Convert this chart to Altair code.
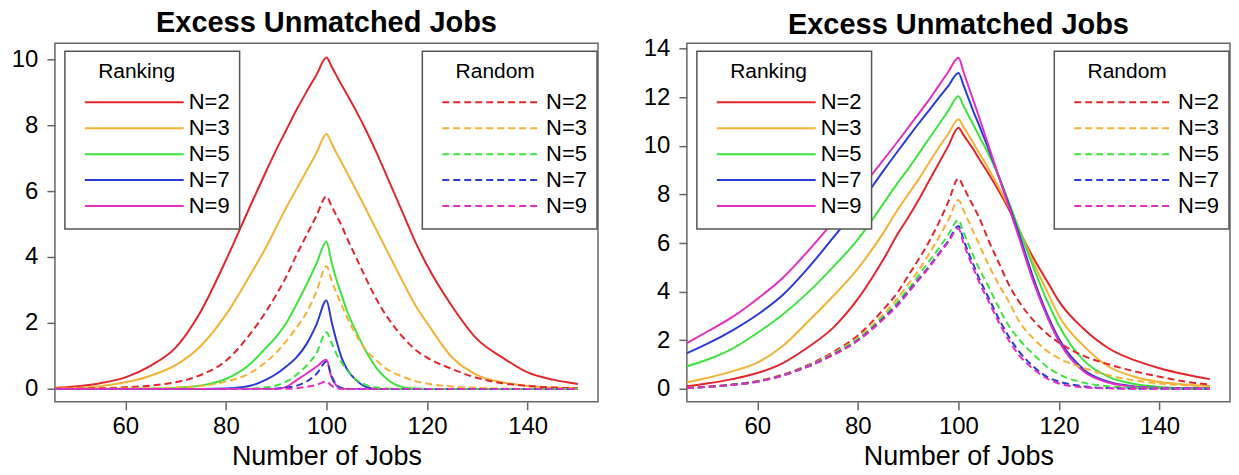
import altair as alt
import pandas as pd

# ---------------- data ----------------
X = [46, 50, 55, 60, 65, 70, 75, 80, 85, 88, 90, 92, 94, 96, 98, 100, 101, 102, 103, 104,
     106, 108, 110, 112, 115, 118, 120, 125, 130, 135, 140, 145, 150]

N_VALUES = [2, 3, 5, 7, 9]
N_LABELS = ["N=2", "N=3", "N=5", "N=7", "N=9"]
COLORS = ["#e3262c", "#f4b236", "#3ee43e", "#2a3bd8", "#e52ec2"]

X_TICKS = [60, 80, 100, 120, 140]
LEFT_Y_TICKS = [0, 2, 4, 6, 8, 10]
RIGHT_Y_TICKS = [0, 2, 4, 6, 8, 10, 12, 14]

# left panel, Ranking (solid)
L_RANK_N2 = [0.03, 0.07, 0.17, 0.35, 0.7, 1.25, 2.35, 3.9, 5.6, 6.6, 7.25, 7.85, 8.45, 9.0, 9.52, 10.05, 9.78, 9.5, 9.22, 8.95,
             8.4, 7.8, 7.15, 6.45, 5.4, 4.35, 3.75, 2.5, 1.5, 0.95, 0.5, 0.28, 0.15]
L_RANK_N3 = [0.01, 0.03, 0.08, 0.2, 0.4, 0.72, 1.3, 2.25, 3.5, 4.3, 4.9, 5.5, 6.05, 6.6, 7.15, 7.73, 7.45, 7.15, 6.87, 6.58,
             6.0, 5.4, 4.8, 4.2, 3.3, 2.45, 2.0, 0.95, 0.42, 0.2, 0.09, 0.04, 0.02]
L_RANK_N5 = [0, 0, 0, 0.01, 0.01, 0.03, 0.1, 0.3, 0.78, 1.25, 1.58, 2.0, 2.55, 3.15, 3.8, 4.46, 3.85, 3.3, 2.85, 2.4,
             1.7, 1.1, 0.62, 0.3, 0.06, 0.01, 0, 0, 0, 0, 0, 0, 0]
L_RANK_N7 = [0, 0, 0, 0, 0, 0, 0, 0.01, 0.1, 0.28, 0.45, 0.68, 0.95, 1.35, 1.95, 2.68, 2.05, 1.45, 0.95, 0.62,
             0.25, 0.05, 0, 0, 0, 0, 0, 0, 0, 0, 0, 0, 0]
L_RANK_N9 = [0, 0, 0, 0, 0, 0, 0, 0, 0, 0, 0, 0.06, 0.26, 0.46, 0.67, 0.88, 0.35, 0.1, 0, 0,
             0, 0, 0, 0, 0, 0, 0, 0, 0, 0, 0, 0, 0]
# left panel, Random (dashed)
L_RAND_N2 = [0, 0.01, 0.02, 0.05, 0.1, 0.2, 0.42, 0.85, 1.7, 2.35, 2.85, 3.4, 4.05, 4.65, 5.25, 5.84, 5.55, 5.25, 4.95, 4.6,
             3.95, 3.3, 2.7, 2.2, 1.6, 1.15, 0.95, 0.6, 0.33, 0.17, 0.09, 0.04, 0.02]
L_RAND_N3 = [0, 0, 0, 0.01, 0.02, 0.04, 0.09, 0.22, 0.5, 0.82, 1.1, 1.45, 1.85, 2.3, 2.95, 3.72, 3.3, 2.9, 2.55, 2.2,
             1.6, 1.15, 0.85, 0.6, 0.38, 0.22, 0.16, 0.07, 0.03, 0.01, 0, 0, 0]
L_RAND_N5 = [0, 0, 0, 0, 0, 0, 0, 0, 0.01, 0.05, 0.1, 0.22, 0.42, 0.7, 1.08, 1.72, 1.4, 1.05, 0.8, 0.58,
             0.27, 0.11, 0.04, 0.01, 0, 0, 0, 0, 0, 0, 0, 0, 0]
L_RAND_N7 = [0, 0, 0, 0, 0, 0, 0, 0, 0, 0, 0.01, 0.04, 0.09, 0.22, 0.45, 0.82, 0.4, 0.12, 0.03, 0,
             0, 0, 0, 0, 0, 0, 0, 0, 0, 0, 0, 0, 0]
L_RAND_N9 = [0, 0, 0, 0, 0, 0, 0, 0, 0, 0, 0, 0, 0.02, 0.06, 0.12, 0.22, 0.1, 0.03, 0, 0,
             0, 0, 0, 0, 0, 0, 0, 0, 0, 0, 0, 0, 0]

# right panel, Ranking (solid)
R_RANK_N2 = [0.11, 0.22, 0.4, 0.65, 1.05, 1.7, 2.5, 3.7, 5.3, 6.4, 7.05, 7.75, 8.5, 9.25, 10.0, 10.75, 10.45, 10.15, 9.85, 9.5,
             8.85, 8.15, 7.4, 6.55, 5.35, 4.3, 3.6, 2.45, 1.65, 1.18, 0.85, 0.6, 0.4]
R_RANK_N3 = [0.27, 0.45, 0.72, 1.08, 1.75, 2.75, 3.8, 4.95, 6.4, 7.4, 8.0, 8.6, 9.25, 9.9, 10.5, 11.1, 10.78, 10.45, 10.1, 9.75,
             9.05, 8.3, 7.5, 6.6, 5.15, 3.85, 3.0, 1.75, 0.9, 0.5, 0.28, 0.18, 0.12]
R_RANK_N5 = [0.93, 1.2, 1.65, 2.3, 3.05, 3.95, 5.0, 6.15, 7.6, 8.5, 9.05, 9.65, 10.25, 10.85, 11.45, 12.04, 11.65, 11.25, 10.85, 10.45,
             9.65, 8.75, 7.7, 6.6, 4.95, 3.45, 2.6, 1.15, 0.48, 0.2, 0.08, 0.03, 0.01]
R_RANK_N7 = [1.47, 1.85, 2.4, 3.05, 3.85, 4.95, 6.2, 7.5, 8.95, 9.8, 10.35, 10.9, 11.42, 11.95, 12.47, 13.0, 12.5, 11.95, 11.4, 10.9,
             9.85, 8.75, 7.6, 6.4, 4.5, 2.9, 2.05, 0.78, 0.28, 0.1, 0.04, 0.02, 0.01]
R_RANK_N9 = [1.88, 2.35, 2.95, 3.7, 4.55, 5.65, 6.85, 8.1, 9.4, 10.2, 10.75, 11.3, 11.85, 12.45, 13.05, 13.63, 13.05, 12.45, 11.85, 11.25,
             10.0, 8.75, 7.5, 6.25, 4.35, 2.8, 1.95, 0.7, 0.25, 0.08, 0.03, 0.01, 0]
# right panel, Random (dashed)
R_RAND_N2 = [0.05, 0.09, 0.18, 0.32, 0.58, 0.97, 1.5, 2.2, 3.25, 4.0, 4.65, 5.3, 6.0, 6.8, 7.7, 8.66, 8.3, 7.9, 7.5, 7.1,
             6.1, 5.2, 4.3, 3.6, 2.8, 2.2, 1.9, 1.35, 1.0, 0.72, 0.5, 0.3, 0.18]
R_RAND_N3 = [0.04, 0.08, 0.17, 0.31, 0.56, 0.94, 1.45, 2.1, 3.05, 3.75, 4.3, 4.85, 5.5, 6.2, 6.95, 7.77, 7.35, 6.9, 6.45, 6.0,
             5.1, 4.3, 3.6, 2.8, 2.05, 1.5, 1.25, 0.85, 0.55, 0.35, 0.22, 0.15, 0.1]
R_RAND_N5 = [0.03, 0.08, 0.17, 0.3, 0.55, 0.93, 1.42, 2.05, 2.95, 3.6, 4.1, 4.65, 5.2, 5.75, 6.35, 6.95, 6.45, 5.95, 5.45, 5.0,
             4.2, 3.35, 2.6, 2.05, 1.4, 0.85, 0.6, 0.25, 0.1, 0.04, 0.02, 0.01, 0]
R_RAND_N7 = [0.03, 0.08, 0.17, 0.3, 0.55, 0.92, 1.4, 2.0, 2.9, 3.5, 4.0, 4.5, 5.0, 5.55, 6.1, 6.7, 6.15, 5.6, 5.1, 4.6,
             3.75, 2.9, 2.15, 1.55, 0.9, 0.45, 0.3, 0.1, 0.03, 0.01, 0, 0, 0]
R_RAND_N9 = [0.03, 0.08, 0.16, 0.29, 0.54, 0.91, 1.38, 1.98, 2.85, 3.45, 3.95, 4.45, 4.95, 5.5, 6.05, 6.6, 6.0, 5.45, 4.95, 4.45,
             3.6, 2.75, 2.0, 1.4, 0.8, 0.38, 0.22, 0.06, 0.02, 0, 0, 0, 0]

LEFT_RANK = [L_RANK_N2, L_RANK_N3, L_RANK_N5, L_RANK_N7, L_RANK_N9]
LEFT_RAND = [L_RAND_N2, L_RAND_N3, L_RAND_N5, L_RAND_N7, L_RAND_N9]
RIGHT_RANK = [R_RANK_N2, R_RANK_N3, R_RANK_N5, R_RANK_N7, R_RANK_N9]
RIGHT_RAND = [R_RAND_N2, R_RAND_N3, R_RAND_N5, R_RAND_N7, R_RAND_N9]


def to_frame(series_list, field, keys):
    rows = []
    for key, ys in zip(keys, series_list):
        for xv, yv in zip(X, ys):
            rows.append({"x": xv, "y": yv, field: key})
    return pd.DataFrame(rows)


FONT = "Liberation Sans"
PANEL_W = 544
PANEL_H = 359
DASH = [7, 4]
INDENT = "\u200b" + "\u00a0" * 4


def legend(title, dash=None):
    kw = dict(
        title=INDENT + title,
        orient="none",
        legendY=8,
        padding=10,
        strokeColor="#555555",
        fillColor="white",
        cornerRadius=0,
        symbolType="stroke",
        symbolSize=9801,
        symbolStrokeWidth=2,
        symbolOffset=9,
        labelOffset=4,
        clipHeight=26,
        rowPadding=0,
        titlePadding=7,
        labelFontSize=22,
        titleFontSize=21,
        labelFont=FONT,
        titleFont=FONT,
        titleFontWeight="normal",
        labelColor="black",
        titleColor="black",
        titleLimit=300,
    )
    if title == "Ranking":
        kw["legendX"] = 10
    else:
        kw["legendX"] = 368
        kw["symbolDash"] = dash
        kw["labelExpr"] = "'N=' + datum.label"
    return alt.Legend(**kw)


def panel(rank_series, rand_series, ydom, yticks, title_offset):
    xenc = alt.X("x:Q", scale=alt.Scale(domain=[46, 154], nice=False, zero=False),
                 axis=alt.Axis(values=X_TICKS, title="Number of Jobs", labelPadding=5, titlePadding=5))
    yenc = alt.Y("y:Q", scale=alt.Scale(domain=ydom, nice=False, zero=False),
                 axis=alt.Axis(values=yticks, title=None, labelPadding=9, minExtent=46))
    rank = alt.Chart(to_frame(rank_series, "N_rank", N_LABELS)).mark_line(
        strokeWidth=2, clip=True, interpolate="monotone"
    ).encode(
        x=xenc, y=yenc,
        color=alt.Color("N_rank:N", scale=alt.Scale(domain=N_LABELS, range=COLORS), legend=legend("Ranking")),
    )
    rand = alt.Chart(to_frame(rand_series, "N_rand", N_VALUES)).mark_line(
        strokeWidth=2, clip=True, interpolate="monotone", strokeDash=DASH
    ).encode(
        x=xenc, y=yenc,
        stroke=alt.Stroke("N_rand:O", scale=alt.Scale(domain=N_VALUES, range=COLORS), legend=legend("Random", DASH)),
    )
    return alt.layer(rank, rand).properties(
        width=PANEL_W, height=PANEL_H,
        title=alt.TitleParams("Excess Unmatched Jobs", fontSize=29, font=FONT, fontWeight="bold",
                              anchor="middle", offset=title_offset, color="black"),
    )


left = panel(LEFT_RANK, LEFT_RAND, [-0.39, 10.48], LEFT_Y_TICKS, 5)
right = panel(RIGHT_RANK, RIGHT_RAND, [-0.53, 14.22], RIGHT_Y_TICKS, -3)

chart = alt.hconcat(left, right, spacing=89, bounds="flush").resolve_scale(
    x="independent", y="independent", color="independent", stroke="independent"
).resolve_legend(color="independent", stroke="independent").properties(padding=0).configure_view(
    stroke="#666666", strokeWidth=1.5
).configure_axis(
    labelFont=FONT, labelFontSize=24, labelColor="black",
    titleFont=FONT, titleFontSize=27, titleFontWeight="normal", titleColor="black",
    tickColor="#666666", tickSize=8, tickWidth=1.5, domain=False, grid=False,
).configure_legend(strokeWidth=1.5)

chart.save("out.html", embed_options={"renderer": "svg", "actions": False})
